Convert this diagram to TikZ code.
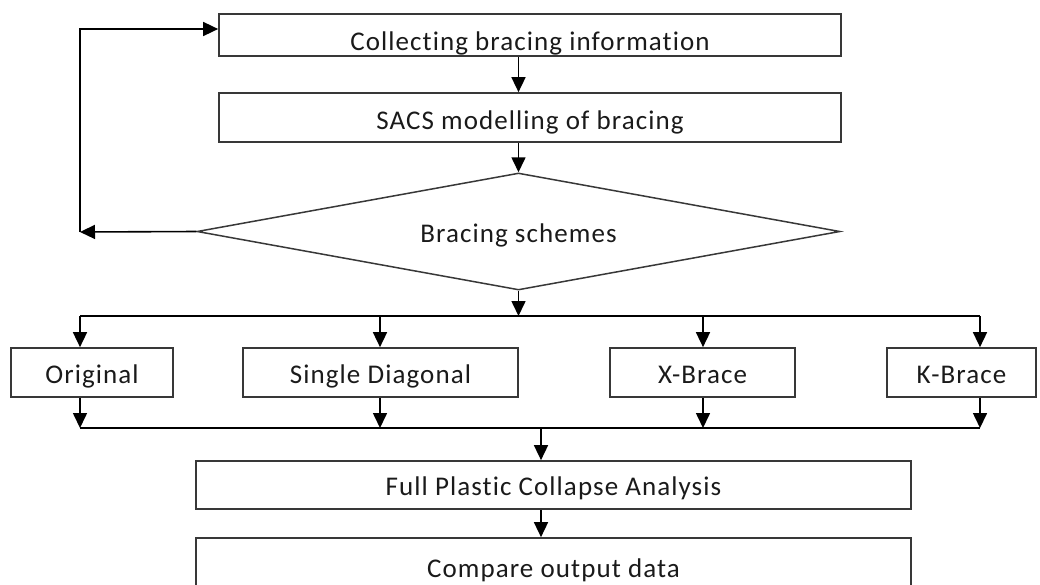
\documentclass[tikz,border=0pt]{standalone}
\usepackage{fontspec}
\setmainfont{Carlito}
\newfontfamily\boxfont[LetterSpace=4,Ligatures={NoCommon}]{Carlito}
\usetikzlibrary{arrows.meta,shapes.geometric}

\definecolor{boxline}{HTML}{383838}
\definecolor{inkcol}{HTML}{1a1a1a}

\tikzset{
  procbox/.style={draw=boxline, line width=1.7pt, rectangle, inner sep=0pt,
    text=inkcol, font=\boxfont\fontsize{27}{32}\selectfont},
  decbox/.style={draw=boxline, line width=1.5pt, diamond, inner sep=0pt,
    text=inkcol, font=\boxfont\fontsize{27}{32}\selectfont},
  flow/.style={draw=black, line width=1.6pt,
    -{Triangle[width=14pt,length=15pt]}},
  plain/.style={draw=black, line width=1.6pt},
}

\begin{document}
\begin{tikzpicture}[x=1pt, y=-1pt]
  \useasboundingbox (0,0) rectangle (1040,584);
  \clip (0,0) rectangle (1040,584);

  % process steps
  \node[procbox, minimum width=622pt, minimum height=42pt,
        text height=36pt, text depth=6pt] (collect) at (530,35)
        {Collecting bracing information};
  \node[procbox, minimum width=622pt, minimum height=49pt,
        text height=36pt, text depth=13pt] (sacs) at (530,117.5)
        {SACS modelling of bracing};
  \node[decbox, minimum width=643pt, minimum height=117pt, aspect=5.5,
        text height=21pt, text depth=0pt] (scheme) at (518.5,231.5)
        {Bracing schemes};

  % bracing alternatives
  \node[procbox, minimum width=162pt, minimum height=49pt,
        text height=35pt, text depth=14pt] (orig) at (92,372.5) {Original};
  \node[procbox, minimum width=275pt, minimum height=49pt,
        text height=35pt, text depth=14pt] (single) at (380.5,372.5) {Single Diagonal};
  \node[procbox, minimum width=185pt, minimum height=49pt,
        text height=35pt, text depth=14pt] (xbrace) at (702.5,372.5) {X-Brace};
  \node[procbox, minimum width=149pt, minimum height=49pt,
        text height=35pt, text depth=14pt] (kbrace) at (961.5,372.5) {K-Brace};

  % analysis and comparison
  \node[procbox, minimum width=715pt, minimum height=48pt,
        text height=34pt, text depth=14pt] (fpca) at (553.5,485)
        {Full Plastic Collapse Analysis};
  \node[procbox, minimum width=715pt, minimum height=62pt,
        text height=39pt, text depth=23pt] (compare) at (553.5,569)
        {Compare output data};

  % junction points of the loop and the two buses
  \coordinate (loopbot) at (80,232);
  \coordinate (looptop) at (80,29);
  \coordinate (spine) at (518.5,0);
  \coordinate (t1) at (80,316);
  \coordinate (t2) at (380,316);
  \coordinate (t3) at (703,316);
  \coordinate (t4) at (980,316);
  \coordinate (m1) at (80,428);
  \coordinate (m2) at (380,428);
  \coordinate (m3) at (703,428);
  \coordinate (m4) at (980,428);
  \coordinate (merge) at (541,428);

  % main spine
  \draw[flow] (collect.south -| spine) -- (sacs.north -| spine);
  \draw[flow] (sacs.south -| spine) -- (scheme.north);
  \draw[flow] (scheme.south) -- (t1 -| spine);

  % feedback loop
  \draw[flow] (scheme.west) -- (loopbot);
  \draw[flow] (loopbot) -- (looptop) -- (looptop -| collect.west);

  % split bus
  \draw[plain] (t1) -- (t4);
  \draw[flow] (t1) -- (t1 |- orig.north);
  \draw[flow] (t2) -- (t2 |- single.north);
  \draw[flow] (t3) -- (t3 |- xbrace.north);
  \draw[flow] (t4) -- (t4 |- kbrace.north);

  % merge bus
  \draw[flow] (m1 |- orig.south) -- (m1);
  \draw[flow] (m2 |- single.south) -- (m2);
  \draw[flow] (m3 |- xbrace.south) -- (m3);
  \draw[flow] (m4 |- kbrace.south) -- (m4);
  \draw[plain] (m1) -- (m4);
  \draw[flow] (merge) -- (merge |- fpca.north);
  \draw[flow] (fpca.south -| merge) -- (compare.north -| merge);
\end{tikzpicture}
\end{document}
